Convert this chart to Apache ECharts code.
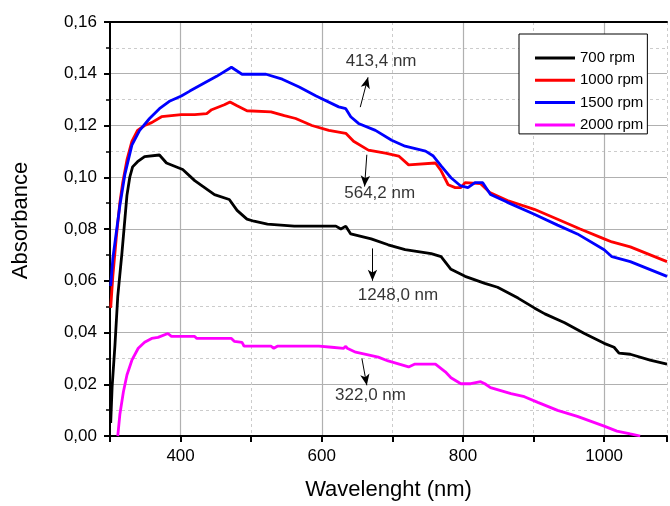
<!DOCTYPE html>
<html>
<head>
<meta charset="utf-8">
<script src="https://cdn.jsdelivr.net/npm/echarts@6/dist/echarts.min.js"></script>
<style>
  html, body { margin: 0; padding: 0; background: #fff; }
  #chart { width: 670px; height: 506px; }
</style>
</head>
<body>
<div id="chart"></div>
<script>
var x700 = [301,303,307,311,317,324,328,332,339,349,370,380,403,420,434,448,469,480,494,504,523,561,620,627,634,641,670,694,718,755,769,783,803,831,849,878,901,916,944,972,1000,1014,1021,1037,1065,1089];
var y700 = [0.005,0.019,0.035,0.054,0.071,0.093,0.100,0.104,0.106,0.108,0.1086,0.1055,0.103,0.0987,0.096,0.0933,0.0914,0.0872,0.0838,0.083,0.0819,0.0811,0.0811,0.08,0.0811,0.0781,0.0762,0.0739,0.072,0.0705,0.0693,0.0644,0.0617,0.059,0.0575,0.0533,0.0495,0.0472,0.0438,0.0396,0.0358,0.0343,0.032,0.0316,0.0293,0.0278];

var x1000 = [301,304,309,314,318,324,331,339,349,359,373,401,420,437,444,462,470,480,494,528,547,563,586,610,634,645,666,690,709,723,761,769,779,789,797,803,825,838,863,901,934,966,1000,1011,1037,1089];
var y1000 = [0.0495,0.0617,0.077,0.0903,0.0979,0.1067,0.1139,0.1181,0.12,0.1211,0.1234,0.1242,0.1242,0.1246,0.1261,0.128,0.1291,0.1276,0.1257,0.1253,0.1238,0.1227,0.12,0.1181,0.117,0.1139,0.1105,0.1093,0.1082,0.1048,0.1055,0.1025,0.0971,0.096,0.096,0.0979,0.0975,0.0941,0.091,0.0876,0.0838,0.08,0.0762,0.075,0.0731,0.0674];

var x1500 = [301,304,309,314,321,331,342,356,370,385,401,413,431,451,472,487,521,544,568,592,624,634,641,652,676,699,718,747,758,769,783,796,807,817,828,839,863,901,934,962,1000,1011,1037,1089];
var y1500 = [0.0579,0.0686,0.0789,0.0891,0.101,0.1124,0.1181,0.1227,0.1265,0.1295,0.1314,0.1333,0.136,0.139,0.1425,0.1398,0.1398,0.1379,0.1349,0.1314,0.1272,0.1265,0.1234,0.1208,0.1181,0.1143,0.112,0.1101,0.1082,0.1044,0.0998,0.0968,0.096,0.0979,0.0979,0.0933,0.0903,0.0857,0.0815,0.0781,0.072,0.0693,0.0674,0.0617];

var x2000 = [311,314,319,324,331,340,349,359,368,382,387,420,423,472,476,487,490,528,532,537,596,614,631,634,636,648,680,694,723,732,761,775,783,797,811,825,831,839,868,887,906,934,962,1000,1018,1037,1051];
var y2000 = [0,0.0084,0.0171,0.0236,0.0293,0.0339,0.0362,0.0377,0.0381,0.0396,0.0385,0.0385,0.0377,0.0377,0.0366,0.0362,0.0347,0.0347,0.0339,0.0347,0.0347,0.0343,0.0339,0.0347,0.0339,0.0324,0.0305,0.029,0.0267,0.0278,0.0278,0.0248,0.0225,0.0202,0.0202,0.021,0.0202,0.0187,0.0164,0.0152,0.013,0.0099,0.0076,0.0038,0.0019,0.0008,0];

var seriesNames = ['700 rpm', '1000 rpm', '1500 rpm', '2000 rpm'];
var seriesColors = ['#000000', '#ff0000', '#0000ff', '#ff00ff'];

// annotations
var noteText = ['413,4 nm', '564,2 nm', '1248,0 nm', '322,0 nm'];
var notePos = [[684, 0.1448], [682, 0.0937], [708, 0.0545], [669, 0.0156]];
var arrowFrom = [[654.5, 0.1271], [663.8, 0.1087], [671.8, 0.0725], [656.8, 0.0300]];
var arrowTo = [[665.5, 0.1386], [660.6, 0.0964], [671.8, 0.0600], [663.8, 0.0196]];

var fontFam = 'Liberation Sans, Arial, sans-serif';

function zip(xs, ys) {
	var out = [];
	for (var i = 0; i < xs.length; i++) {
		out.push([xs[i], ys[i]]);
	}
	return out;
}

var allX = [x700, x1000, x1500, x2000];
var allY = [y700, y1000, y1500, y2000];

var series = [];
for (var s = 0; s < seriesNames.length; s++) {
	series.push({
		name: seriesNames[s],
		type: 'line',
		data: zip(allX[s], allY[s]),
		symbol: 'none',
		lineStyle: {color: seriesColors[s], width: 2.8},
		itemStyle: {color: seriesColors[s]},
		z: 3 + s
	});
}

var arrowData = [];
var noteData = [];
for (var i = 0; i < noteText.length; i++) {
	arrowData.push([{coord: arrowFrom[i]}, {coord: arrowTo[i]}]);
	noteData.push({name: noteText[i], value: notePos[i]});
}

series.push({
	name: 'notes',
	type: 'scatter',
	data: noteData,
	symbolSize: 0,
	silent: true,
	z: 10,
	label: {
		show: true,
		position: 'inside',
		formatter: '{b}',
		color: '#000',
		fontSize: 17,
		fontFamily: fontFam
	},
	markLine: {
		silent: true,
		symbol: ['none', 'arrow'],
		symbolSize: [7, 11],
		label: {show: false},
		lineStyle: {color: '#000', width: 1, type: 'solid'},
		data: arrowData
	}
});

var chart = echarts.init(document.getElementById('chart'));

var option = {
	animation: false,
	backgroundColor: '#fff',
	grid: {left: 110, right: 0, top: 22, bottom: 64},
	legend: {
		data: seriesNames,
		orient: 'vertical',
		left: 519,
		top: 34,
		padding: [15, 4, 0, 16],
		icon: 'rect',
		itemWidth: 40,
		itemHeight: 3,
		itemGap: 4.3,
		borderColor: '#000',
		borderWidth: 1,
		backgroundColor: '#fff',
		textStyle: {fontSize: 15, color: '#000', fontFamily: fontFam, lineHeight: 18}
	},
	xAxis: [
		{
			type: 'value',
			position: 'bottom',
			min: 300,
			max: 1089,
			interval: 100,
			name: 'Wavelenght (nm)',
			nameLocation: 'middle',
			nameGap: 43,
			nameTextStyle: {fontSize: 22, color: '#000', fontFamily: fontFam},
			axisLine: {lineStyle: {color: '#000', width: 2}},
			axisTick: {inside: false, length: 6, lineStyle: {color: '#000', width: 2}},
			axisLabel: {
				margin: 12,
				fontSize: 17,
				color: '#000',
				fontFamily: fontFam,
				formatter: function(v) { return v % 200 === 0 ? String(v) : ''; }
			},
			splitLine: {show: true, lineStyle: {color: ['rgba(0,0,0,0)', '#b0b0b0'], width: 1.2, type: 'solid'}}
		},
		{
			type: 'value',
			position: 'top',
			min: 300,
			max: 1089,
			interval: 100,
			axisLine: {show: true, onZero: false, lineStyle: {color: '#000', width: 2}},
			axisTick: {show: false},
			axisLabel: {show: false},
			splitLine: {show: true, lineStyle: {color: ['#cccccc', 'rgba(0,0,0,0)'], width: 1, type: [3, 3]}}
		}
	],
	yAxis: {
		type: 'value',
		min: 0,
		max: 0.16,
		interval: 0.02,
		name: 'Absorbance',
		nameLocation: 'middle',
		nameGap: 78,
		nameTextStyle: {fontSize: 22, color: '#000', fontFamily: fontFam, padding: [0, 0, 0, 17]},
		axisLine: {show: true, lineStyle: {color: '#000', width: 2}},
		axisTick: {show: true, inside: false, length: 6, lineStyle: {color: '#000', width: 2}},
		minorTick: {show: true, splitNumber: 2, length: 4, lineStyle: {color: '#000', width: 1.5}},
		axisLabel: {
			margin: 13,
			fontSize: 17,
			color: '#000',
			fontFamily: fontFam,
			formatter: function(v) { return v.toFixed(2).replace('.', ','); }
		},
		splitLine: {show: true, lineStyle: {color: '#b0b0b0', width: 1.2}},
		minorSplitLine: {show: true, lineStyle: {color: '#cccccc', width: 1, type: [3, 3]}}
	},
	series: series
};

chart.setOption(option);
</script>
</body>
</html>
